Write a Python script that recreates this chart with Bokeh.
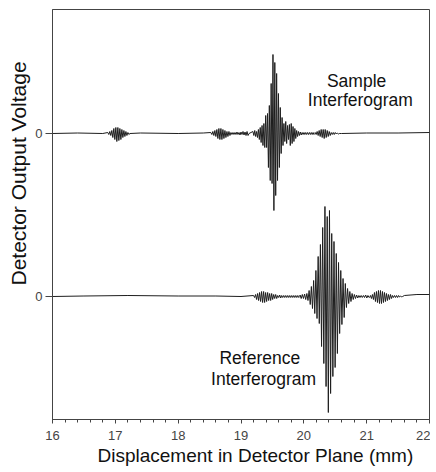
import numpy as np
from bokeh.plotting import figure
from bokeh.models import Range1d, FixedTicker, Label, Title
from bokeh.embed import file_html
from bokeh.resources import INLINE

# ---------------- data ----------------
# x axis
x_ticks = [16, 17, 18, 19, 20, 21, 22]
x_tick_labels = ["16", "17", "18", "19", "20", "21", "22"]

# Sample interferogram: slow baseline points (mm, a.u.)
sample_base_x = [16.0, 16.4, 16.8, 17.4, 18.0, 18.4, 20.6, 21.0, 21.5, 22.0]
sample_base_y = [0.0, 0.5, 0.0, 0.5, 0.0, 0.5, 0.0, 0.5, 0.5, 1.0]
# fringe bursts: start (mm), fringe period (mm), crest heights, trough depths (a.u.)
sample_burst_start = [16.88, 18.52, 19.19, 20.18]
sample_burst_period = [0.032, 0.032, 0.029, 0.032]
sample_burst_up = [
    [1, 2, 3, 5, 6, 6, 5, 4, 3, 2, 1],
    [1, 2, 3, 4, 5, 5, 4, 3, 2, 2, 1, 1, 1, 1.5, 1, 1.5, 2, 1.5, 2],
    [2, 3, 2, 4, 6, 8, 10, 18, 20, 28, 50, 79, 71, 60, 40, 26, 16, 10, 12, 8,
     9, 10, 7, 5, 3, 2, 1.5, 1, 1, 1, 1, 1, 1, 1],
    [1, 2, 3, 4, 4, 4, 3, 2, 1, 1, 1, 0.5],
]
sample_burst_dn = [
    [1, 2, 4, 6, 8, 7, 6, 4, 3, 2, 1],
    [1, 2, 3, 5, 6, 6, 5, 4, 3, 2, 1, 1, 1, 1, 1.5, 1, 1.5, 2, 2],
    [2, 3, 4, 6, 9, 12, 14, 14, 34, 47, 50, 77, 62, 47, 34, 20, 12, 8, 10, 6,
     12, 10, 8, 5, 3, 2, 1.5, 1, 1, 1, 1, 1, 1, 1],
    [1, 2, 3, 4, 5, 4, 3, 2, 1, 1, 0.5, 0.5],
]

# Reference interferogram
ref_base_x = [16.0, 16.5, 17.2, 18.0, 18.6, 19.0, 21.6, 21.8, 22.0]
ref_base_y = [0.0, 0.5, 1.0, 0.5, 0.5, 0.0, 1.0, 2.0, 2.0]
ref_burst_start = [19.2, 19.94, 21.06]
ref_burst_period = [0.032, 0.036, 0.032]
ref_burst_up = [
    [1, 2, 3, 4, 5, 5, 4, 4, 3, 3, 2, 2, 1, 1.5, 1, 1, 1, 1, 1, 1, 1, 1, 1],
    [1.5, 2, 2.5, 3, 6, 10, 16, 26, 40, 52, 69, 90, 80, 86, 63, 55, 43, 34, 26,
     18, 13, 8, 5, 3, 2, 1.5, 1, 1, 1, 1.5, 1],
    [1, 2, 4, 5, 6, 6, 5, 4, 3, 2, 2, 1, 1, 1, 1, 0.5],
]
ref_burst_dn = [
    [1, 3, 4, 5, 6, 6, 5, 4, 4, 3, 2, 2, 1, 1.5, 1, 1, 1, 1, 1, 1, 1, 1, 1],
    [2, 2, 3, 4, 8, 12, 17, 22, 27, 50, 67, 90, 116, 97, 80, 71, 57, 37, 28,
     21, 11, 7, 5, 3, 2, 1.5, 1, 1, 1, 1.5, 1],
    [2, 3, 5, 6, 7, 7, 6, 5, 4, 3, 2, 1, 1, 1, 0.5, 0.5],
]

SAMPLE_OFFSET = 163.0   # vertical offset of the sample trace (layout)


def build_trace(base_x, base_y, starts, periods, ups, dns):
    spans = []
    pts = []
    for s, per, up, dn in zip(starts, periods, ups, dns):
        end = s + len(up) * per
        spans.append((s, end))
        for i, (u, d) in enumerate(zip(up, dn)):
            pts.append((s + i * per, u))
            pts.append((s + (i + 0.5) * per, -d))
        pts.append((end, 0.0))
    for bx, by in zip(base_x, base_y):
        if not any(a <= bx <= b for a, b in spans):
            pts.append((bx, by))
    pts.sort()
    return [p[0] for p in pts], [p[1] for p in pts]


sx, sy = build_trace(sample_base_x, sample_base_y, sample_burst_start,
                     sample_burst_period, sample_burst_up, sample_burst_dn)
sy = [v + SAMPLE_OFFSET for v in sy]
rx, ry = build_trace(ref_base_x, ref_base_y, ref_burst_start,
                     ref_burst_period, ref_burst_up, ref_burst_dn)

FONT = "Liberation Sans"
p = figure(width=430, height=472, output_backend="svg", toolbar_location=None,
           x_range=Range1d(16, 22), y_range=Range1d(-123, 287),
           min_border_left=52, min_border_right=1, min_border_top=9,
           min_border_bottom=53)
p.grid.visible = False
p.outline_line_color = "#444444"
p.outline_line_width = 1
p.background_fill_color = "white"
p.border_fill_color = "white"

p.line(sx, sy, line_color="#1e1e1e", line_width=1)
p.line(rx, ry, line_color="#1e1e1e", line_width=1)

xa = p.xaxis[0]
xa.ticker = FixedTicker(ticks=x_ticks,
                        minor_ticks=[16 + 0.2 * i for i in range(31)])
xa.major_label_overrides = {t: l for t, l in zip(x_ticks, x_tick_labels)}
xa.major_label_text_font = FONT
xa.major_label_text_font_size = "13px"
xa.major_label_standoff = 7
xa.major_tick_in = 0
xa.major_tick_out = 4
xa.minor_tick_in = 0
xa.minor_tick_out = 3
xa.axis_line_color = "#444444"
xa.major_tick_line_color = "#444444"
xa.minor_tick_line_color = "#444444"

ya = p.yaxis[0]
ya.ticker = FixedTicker(ticks=[0, SAMPLE_OFFSET], minor_ticks=[])
ya.major_label_overrides = {0: "0", SAMPLE_OFFSET: "0"}
ya.major_label_text_font = FONT
ya.major_label_text_font_size = "13px"
ya.major_label_standoff = 3
ya.major_label_orientation = "horizontal"
ya.major_tick_in = 0
ya.major_tick_out = 7
ya.axis_line_color = "#444444"
ya.major_tick_line_color = "#444444"

# axis titles (the original places them off the frame centre)
p.add_layout(Title(text="Displacement in Detector Plane (mm)", align="left",
                   offset=45, standoff=0, text_font=FONT,
                   text_font_size="19px", text_font_style="normal",
                   text_color="#111111"), "below")
p.add_layout(Title(text="Detector Output Voltage", align="left",
                   offset=134, standoff=6, text_font=FONT,
                   text_font_size="21px", text_font_style="normal",
                   text_color="#111111"), "left")

for txt, x, y in [("Sample", 20.84, 216), ("Interferogram", 20.90, 197),
                  ("Reference", 19.30, -61), ("Interferogram", 19.36, -82)]:
    p.add_layout(Label(x=x, y=y, text=txt, text_align="center",
                       text_baseline="middle", text_font=FONT,
                       text_font_size="17.5px", text_color="#111111"))

open("out.html", "w").write(file_html(p, INLINE))
